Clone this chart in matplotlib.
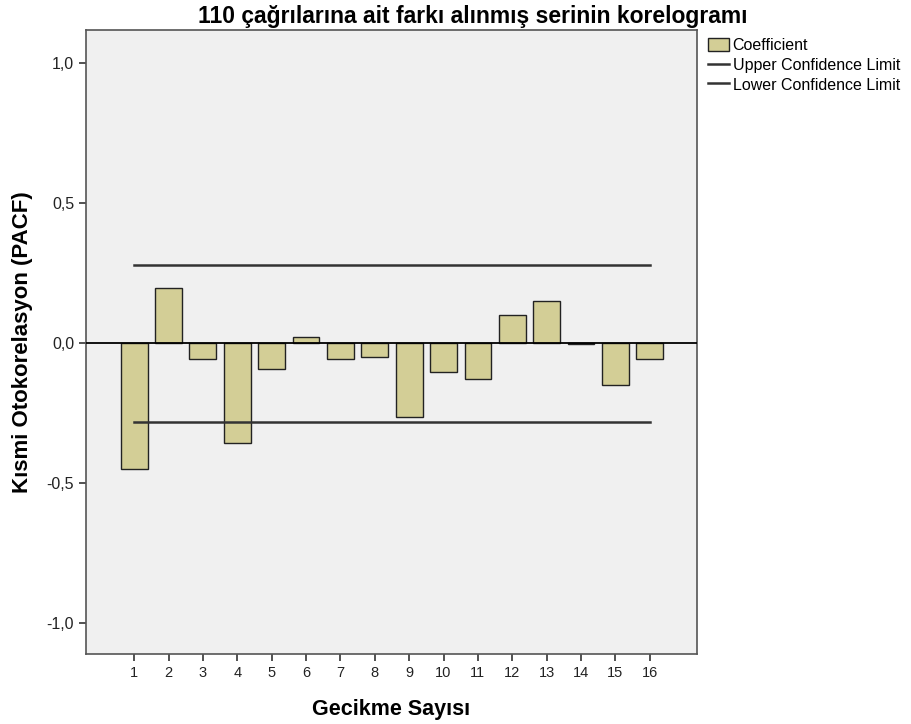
import matplotlib
matplotlib.use("Agg")
import matplotlib.pyplot as plt
from matplotlib.patches import Patch
from matplotlib.lines import Line2D

plt.rcParams['font.family'] = ['Liberation Sans', 'DejaVu Sans']

lags = list(range(1, 17))
pacf = [-0.449, 0.198, -0.056, -0.356, -0.092, 0.022, -0.058, -0.051,
        -0.263, -0.102, -0.127, 0.102, 0.150, -0.003, -0.150, -0.058]
upper_limit = [0.28] * len(lags)
lower_limit = [-0.28] * len(lags)

fig = plt.figure(figsize=(9.11, 7.24), dpi=100)
ax = fig.add_axes([0.0944, 0.0967, 0.6706, 0.8619])
ax.set_facecolor('#f0f0f0')

ax.bar(lags, pacf, width=0.78, color='#d3ce96', edgecolor='#222222', linewidth=1.0, zorder=2)
ax.axhline(0, color='black', linewidth=1.3, zorder=3)
ax.plot(lags, upper_limit, color='#333333', linewidth=1.8, zorder=4)
ax.plot(lags, lower_limit, color='#333333', linewidth=1.8, zorder=4)

ax.set_xlim(-0.4, 17.37)
ax.set_ylim(-1.11, 1.118)
ax.set_xticks(lags)
ax.set_xticklabels([str(l) for l in lags])
ax.set_yticks([-1.0, -0.5, 0.0, 0.5, 1.0])
ax.set_yticklabels(['-1,0', '-0,5', '0,0', '0,5', '1,0'])
ax.tick_params(axis='both', colors='#333333', length=5, width=1.2, labelcolor='#222222')
ax.tick_params(axis='x', labelsize=10.5)
ax.tick_params(axis='y', labelsize=11.5)
for s in ax.spines.values():
    s.set_color('#555555')
    s.set_linewidth(1.2)

fig.suptitle('110 çağrılarına ait farkı alınmış serinin korelogramı',
             x=0.519, y=0.993, fontsize=16.5, fontweight='bold', va='top')
ax.set_xlabel('Gecikme Sayısı', fontsize=15.5, fontweight='bold', labelpad=14)
ax.set_ylabel('Kısmi Otokorelasyon (PACF)', fontsize=16, fontweight='bold', labelpad=10)

handles = [Patch(facecolor='#d3ce96', edgecolor='#222222', label='Coefficient'),
           Line2D([0], [0], color='#333333', linewidth=1.8, label='Upper Confidence Limit'),
           Line2D([0], [0], color='#333333', linewidth=1.8, label='Lower Confidence Limit')]
fig.legend(handles=handles, loc='upper left', bbox_to_anchor=(0.770, 0.957), frameon=False,
           fontsize=11.5, handlelength=1.3, handleheight=0.9, handletextpad=0.25,
           labelspacing=0.3, borderaxespad=0)

fig.savefig('out.png', dpi=100, facecolor='white')
